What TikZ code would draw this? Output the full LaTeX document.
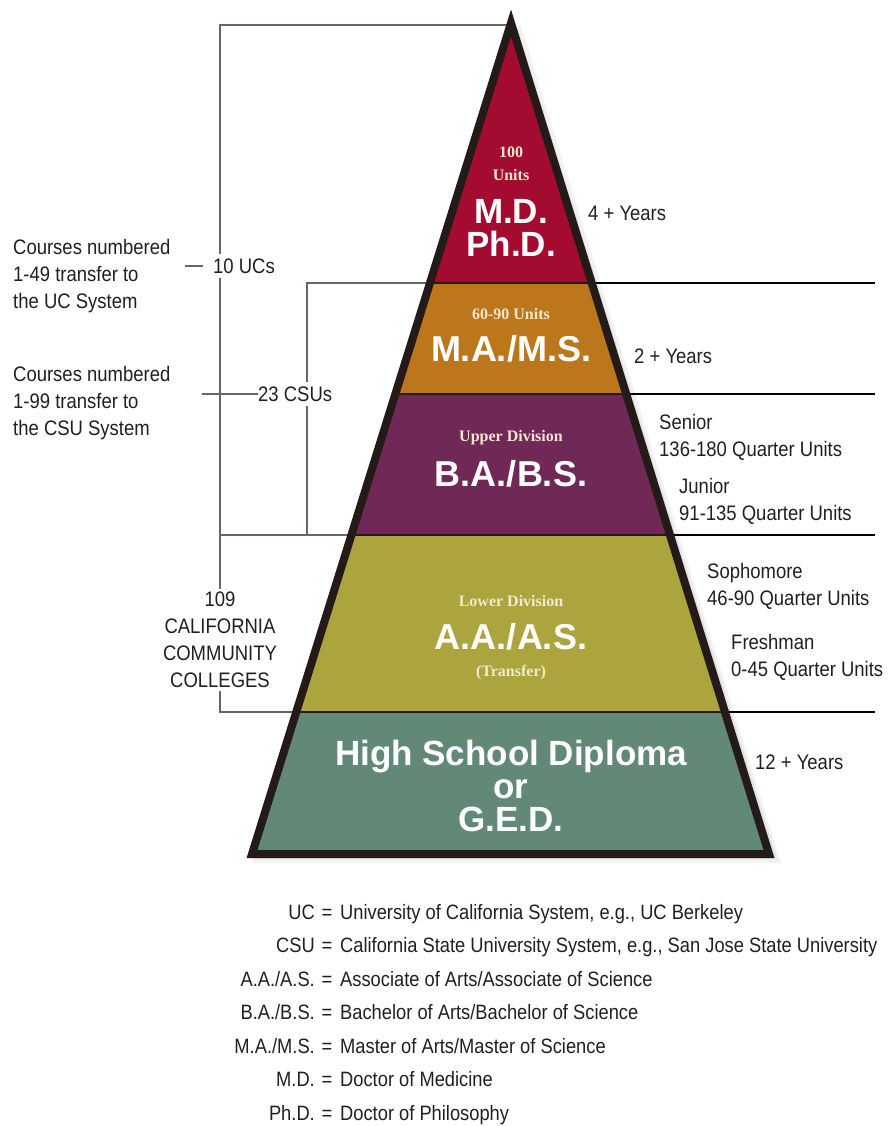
\documentclass[tikz,border=0pt]{standalone}
\usepackage{fontspec}
\setmainfont{Liberation Sans}
\newfontfamily\narrowsans[FakeStretch=0.88]{Liberation Sans}
\newfontfamily\titleserif{Liberation Serif}
\usepackage{tikz}
\usetikzlibrary{positioning, calc}

\definecolor{mdred}{RGB}{163,12,48}
\definecolor{maochre}{RGB}{188,118,28}
\definecolor{baplum}{RGB}{112,40,86}
\definecolor{aaolive}{RGB}{172,165,62}
\definecolor{hsteal}{RGB}{98,137,120}
\definecolor{rimdark}{RGB}{36,27,24}
\definecolor{bracketgray}{RGB}{110,102,94}
\definecolor{inktext}{RGB}{35,31,32}
\definecolor{creamtext}{RGB}{245,232,205}

\tikzset{
  sidetext/.style={font=\narrowsans\fontsize{21}{27}\selectfont, text=inktext,
    align=left, inner sep=0pt, anchor=west},
  keytext/.style={font=\narrowsans\fontsize{20.8}{24}\selectfont, text=inktext, inner sep=0pt},
  degree/.style={font=\bfseries\fontsize{36}{31}\selectfont, text=white,
    align=center, inner sep=0pt},
  unitnote/.style={font=\titleserif\bfseries\fontsize{16}{23}\selectfont, text=creamtext,
    align=center, inner sep=0pt},
  bracket/.style={draw=bracketgray, line width=1.3pt},
  rline/.style={draw=black, line width=1.4pt}
}

\begin{document}
\begin{tikzpicture}[x=1pt, y=-1pt]
			\useasboundingbox (0,0) rectangle (890,1126);
			% pyramid corners
			\coordinate (tip) at (511,23);
			\coordinate (baseL) at (252,854);
			\coordinate (baseR) at (769,854);
			% soft shadow
			\foreach \d/\o in {2/0.10, 5/0.07, 9/0.05}
			\fill[black, opacity=\o] ($(tip)+(\d,0)$) -- ($(baseR)+(\d+3,\d)$) -- ($(baseL)+(0,\d)$) -- cycle;
			% level lines to the right
			\foreach \y/\n in {283/A, 394/B, 535/C, 712/D} {
				\coordinate (lv\n) at (511,\y);
				\coordinate (end\n) at (875,\y);
				\draw[rline] (lv\n) -- (end\n);
			}
			% brackets on the left
			\coordinate (ucTop) at (220,25);
			\coordinate (ccTop) at (220,535);
			\coordinate (ccBot) at (220,712);
			\coordinate (csuTop) at (307,283);
			\coordinate (csuBot) at (307,535);
			\draw[bracket] (tip |- ucTop) -- (ucTop) -- (ccBot) -- (lvD);
			\draw[bracket] (ccTop) -- (lvC);
			\draw[bracket] (lvA) -- (csuTop) -- (csuBot);
			% bands
			\begin{scope}
				\clip (tip) -- (baseR) -- (baseL) -- cycle;
				\fill[mdred]   (0,0)   rectangle (890,283);
				\fill[maochre] (0,283) rectangle (890,394);
				\fill[baplum]  (0,394) rectangle (890,535);
				\fill[aaolive] (0,535) rectangle (890,712);
				\fill[hsteal]  (0,712) rectangle (890,900);
				\foreach \y in {283,394,535,712}
				\draw[line width=2pt, rimdark] (0,\y) -- (890,\y);
			\end{scope}
			\draw[line width=8pt, rimdark, miter limit=10] (tip) -- (baseR) -- (baseL) -- cycle;
			% text inside the pyramid
			\node[unitnote] (units100) at (511,164) {100\\Units};
			\node[degree, font=\bfseries\fontsize{35}{31}\selectfont] (md) at (511,211) {M.D.};
			\node[degree, font=\bfseries\fontsize{35}{31}\selectfont] (phd) at (511,244) {Ph.D.};
			\node[unitnote] (units6090) at (511,314) {60-90 Units};
			\node[degree] (mams) at (511,349) {M.A./M.S.};
			\node[unitnote] (upper) at (511,438) {Upper Division};
			\node[degree] (babs) at (511,474) {B.A./B.S.};
			\node[unitnote] (lower) at (511,601) {Lower Division};
			\node[degree] (aaas) at (511,637) {A.A./A.S.};
			\node[unitnote] (transfer) at (511,673) {(Transfer)};
			\node[degree, font=\bfseries\fontsize{35}{33}\selectfont] (hsd) at (511,786)
			{High School Diploma\\or\\G.E.D.};
			% years and units on the right
			\node[sidetext] (yrs4) at (588,213) {4 + Years};
			\node[sidetext] (yrs2) at (634,356) {2 + Years};
			\node[sidetext] (senior) at (659,437) {Senior\\136-180 Quarter Units};
			\node[sidetext] (junior) at (679,501) {Junior\\91-135 Quarter Units};
			\node[sidetext] (soph) at (707,586) {Sophomore\\46-90 Quarter Units};
			\node[sidetext] (fresh) at (731,657) {Freshman\\0-45 Quarter Units};
			\node[sidetext] (yrs12) at (755,762) {12 + Years};
			% systems on the left
			\node[sidetext] (uccourses) at (13,276) {Courses numbered\\1-49 transfer to\\the UC System};
			\node[sidetext] (csucourses) at (13,403) {Courses numbered\\1-99 transfer to\\the CSU System};
			\node[sidetext, fill=white, inner ysep=5pt] (ucs) at (213,266) {10 UCs};
			\node[sidetext, fill=white, inner ysep=5pt] (csus) at (258,394) {23 CSUs};
			\node[sidetext, fill=white, align=center, anchor=center, inner ysep=3pt] (ccs) at (220,640)
			{109\\CALIFORNIA\\COMMUNITY\\COLLEGES};
			\coordinate (ucdash) at (185,266);
			\coordinate (csudash) at (202,394);
			\draw[bracket] (ucdash) -- ([xshift=-10pt]ucs.west);
			\draw[bracket] (csudash) -- (csus.west);
			% key
			\foreach \abbr/\desc [count=\i] in {
				UC/{University of California System, e.g., UC Berkeley},
				CSU/{California State University System, e.g., San Jose State University},
				{A.A./A.S.}/{Associate of Arts/Associate of Science},
				{B.A./B.S.}/{Bachelor of Arts/Bachelor of Science},
				{M.A./M.S.}/{Master of Arts/Master of Science},
				M.D./{Doctor of Medicine},
				Ph.D./{Doctor of Philosophy}} {
				\node[keytext, anchor=base east] (key\i) at (315,{919+33.5*(\i-1)}) {\abbr};
				\node[keytext, anchor=base] (eq\i) at (327,{919+33.5*(\i-1)}) {=};
				\node[keytext, anchor=base west] (def\i) at (340,{919+33.5*(\i-1)}) {\desc};
			}
		\end{tikzpicture}
\end{document}
